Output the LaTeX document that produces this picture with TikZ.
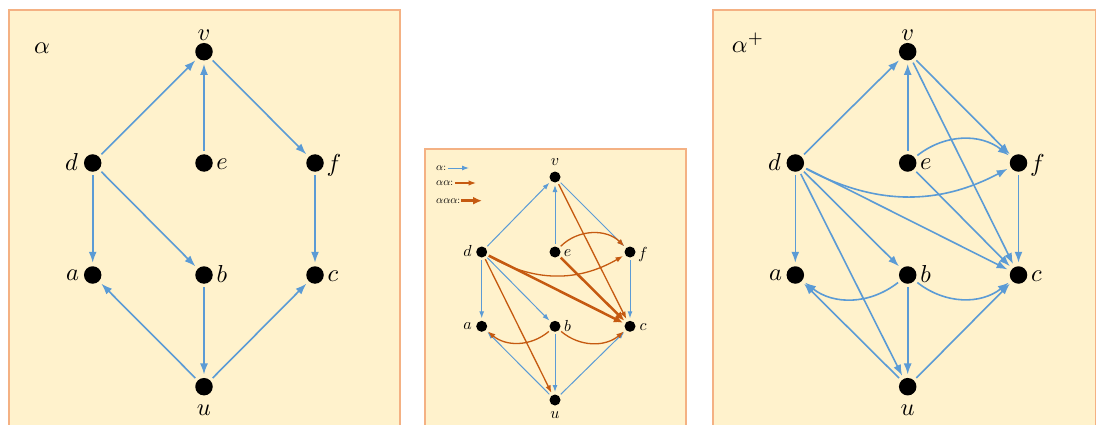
\documentclass[tikz,border=0pt]{standalone}
\usepackage{graphicx}
\usetikzlibrary{arrows.meta}
\definecolor{blueC}{HTML}{5B9BD5}
\definecolor{orC}{HTML}{C55A11}
\definecolor{panelfill}{HTML}{FFF2CC}
\definecolor{panelline}{HTML}{F4B183}
\newcommand{\labA}[1]{\scalebox{2.45}{$#1$}}
\newcommand{\labB}[1]{\scalebox{1.6}{$#1$}}
\newcommand{\labC}[1]{\scalebox{1.1}{$#1$}}
\tikzset{
  dotA/.style={circle, fill=black, minimum size=17.5pt, inner sep=0pt, outer sep=3.5pt},
  dotB/.style={circle, fill=black, minimum size=11pt, inner sep=0pt, outer sep=2.5pt},
  blueA/.style={draw=blueC, line width=1.6pt, -{Latex[length=11pt,width=8pt]}},
  blueB/.style={draw=blueC, line width=1pt, -{Latex[length=7pt,width=5pt]}},
  orB/.style={draw=orC, line width=1.3pt, -{Latex[length=7.5pt,width=5.5pt]}},
  orBB/.style={draw=orC, line width=2.5pt, -{Latex[length=9pt,width=8pt]}},
  panel/.style={fill=panelfill, draw=panelline, line width=1.3pt},
  lblA/.style={inner sep=0pt},
  lblB/.style={inner sep=0pt},
  lgd/.style={inner sep=0pt, anchor=west},
}
\begin{document}
\begin{tikzpicture}[x=1pt,y=1pt]
\useasboundingbox (0,0) rectangle (1096,424);
% panels
\draw[panel] (9,-10) rectangle (400,414);
\draw[panel] (425,-10) rectangle (686,275);
\draw[panel] (713,-10) rectangle (1095.5,414);

% ---------------- left panel: alpha
\node[lblA] (tA) at (42,376) {\labA{\alpha}};
\node[dotA] (Lv) at (204,372.3) {};
\node[dotA] (Ld) at (92.7,261) {};
\node[dotA] (Le) at (204,261) {};
\node[dotA] (Lf) at (315,261) {};
\node[dotA] (La) at (92.7,149) {};
\node[dotA] (Lb) at (204,149) {};
\node[dotA] (Lc) at (315,149) {};
\node[dotA] (Lu) at (204,37.3) {};
\node[lblA] (Llv) at (204,389) {\labA{v}};
\node[lblA] (Lld) at (71.5,262) {\labA{d}};
\node[lblA] (Lle) at (222,260) {\labA{e}};
\node[lblA] (Llf) at (334,259) {\labA{f}};
\node[lblA] (Lla) at (72.5,149) {\labA{a}};
\node[lblA] (Llb) at (222,150) {\labA{b}};
\node[lblA] (Llc) at (333,148) {\labA{c}};
\node[lblA] (Llu) at (204,14) {\labA{u}};
\draw[blueA] (Ld) -- (Lv);
\draw[blueA] (Le) -- (Lv);
\draw[blueA] (Lv) -- (Lf);
\draw[blueA] (Ld) -- (La);
\draw[blueA] (Ld) -- (Lb);
\draw[blueA] (Lf) -- (Lc);
\draw[blueA] (Lb) -- (Lu);
\draw[blueA] (Lu) -- (La);
\draw[blueA] (Lu) -- (Lc);

% ---------------- middle panel
\node[lgd] (g1) at (436,256) {\labC{\alpha}:};
\node[lgd] (g2) at (436,241) {\labC{\alpha\alpha}:};
\node[lgd] (g3) at (436,223.3) {\labC{\alpha\alpha\alpha}:};
\coordinate (g1e) at (469,256);
\coordinate (g2e) at (476,241);
\coordinate (g3e) at (482,223.3);
\draw[blueB] (g1.east) ++(1.5,0) coordinate (g1s) -- (g1e);
\draw[orB] (g2.east) ++(1.5,0) coordinate (g2s) -- (g2e);
\draw[orBB] (g3.east) ++(0.5,0) coordinate (g3s) -- (g3e);

\node[dotB] (Mv) at (555,247) {};
\node[dotB] (Md) at (481.7,172) {};
\node[dotB] (Me) at (555,172) {};
\node[dotB] (Mf) at (630,172) {};
\node[dotB] (Ma) at (481.7,97.7) {};
\node[dotB] (Mb) at (555,97.7) {};
\node[dotB] (Mc) at (630,97.7) {};
\node[dotB] (Mu) at (555,24) {};
\node[lblB] (Mlv) at (555,262) {\labB{v}};
\node[lblB] (Mld) at (467.5,173) {\labB{d}};
\node[lblB] (Mle) at (567.5,171) {\labB{e}};
\node[lblB] (Mlf) at (643,170) {\labB{f}};
\node[lblB] (Mla) at (467.5,97.7) {\labB{a}};
\node[lblB] (Mlb) at (567.5,98.5) {\labB{b}};
\node[lblB] (Mlc) at (643,97) {\labB{c}};
\node[lblB] (Mlu) at (555,9) {\labB{u}};
\draw[blueB] (Md) -- (Mv);
\draw[blueB] (Me) -- (Mv);
\draw[blueB] (Mv) -- (Mf);
\draw[blueB] (Md) -- (Ma);
\draw[blueB] (Md) -- (Mb);
\draw[blueB] (Mf) -- (Mc);
\draw[blueB] (Mb) -- (Mu);
\draw[blueB] (Mu) -- (Ma);
\draw[blueB] (Mu) -- (Mc);
\draw[orB] (Mv) -- (Mc);
\draw[orB] (Me) to[bend left=45] (Mf);
\draw[orB] (Md) to[bend right=30] (Mf);
\draw[orB] (Md) -- (Mu);
\draw[orB] (Mb) to[bend left=40] (Ma);
\draw[orB] (Mb) to[bend right=40] (Mc);
\draw[orBB] (Md) -- (Mc);
\draw[orBB] (Me) -- (Mc);

% ---------------- right panel: alpha+
\node[lblA] (tB) at (748,381) {\labA{\alpha^{+}}};
\node[dotA] (Rv) at (907.7,372.3) {};
\node[dotA] (Rd) at (795.3,261) {};
\node[dotA] (Re) at (907.7,261) {};
\node[dotA] (Rf) at (1018.5,261) {};
\node[dotA] (Ra) at (795.3,149) {};
\node[dotA] (Rb) at (907.7,149) {};
\node[dotA] (Rc) at (1018.5,149) {};
\node[dotA] (Ru) at (907.7,37.3) {};
\node[lblA] (Rlv) at (907.7,389) {\labA{v}};
\node[lblA] (Rld) at (774.5,262) {\labA{d}};
\node[lblA] (Rle) at (925.7,260) {\labA{e}};
\node[lblA] (Rlf) at (1037.5,259) {\labA{f}};
\node[lblA] (Rla) at (775.5,149) {\labA{a}};
\node[lblA] (Rlb) at (925.7,150) {\labA{b}};
\node[lblA] (Rlc) at (1036.5,148) {\labA{c}};
\node[lblA] (Rlu) at (907.7,14) {\labA{u}};
\draw[blueA] (Rd) -- (Rv);
\draw[blueA] (Re) -- (Rv);
\draw[blueA] (Rv) -- (Rf);
\draw[blueA] (Rd) -- (Ra);
\draw[blueA] (Rd) -- (Rb);
\draw[blueA] (Rf) -- (Rc);
\draw[blueA] (Rb) -- (Ru);
\draw[blueA] (Ru) -- (Ra);
\draw[blueA] (Ru) -- (Rc);
\draw[blueA] (Rv) -- (Rc);
\draw[blueA] (Re) to[bend left=38] (Rf);
\draw[blueA] (Rd) to[bend right=28] (Rf);
\draw[blueA] (Rd) -- (Ru);
\draw[blueA] (Rb) to[bend left=38] (Ra);
\draw[blueA] (Rb) to[bend right=38] (Rc);
\draw[blueA] (Rd) -- (Rc);
\draw[blueA] (Re) -- (Rc);
\end{tikzpicture}
\end{document}
